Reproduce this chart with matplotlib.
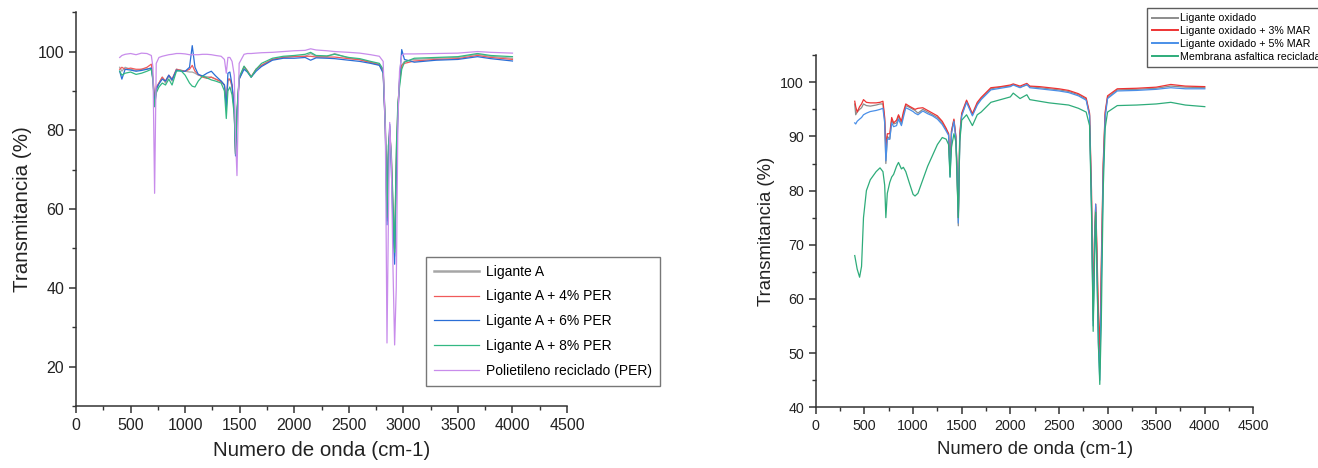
import matplotlib.pyplot as plt
from matplotlib.ticker import MultipleLocator

plt.rcParams['font.family'] = ['Liberation Sans', 'DejaVu Sans']

# ---- left panel: Ligante A + PER ----
wn_a = [400, 420, 450, 500, 550, 600, 650, 690, 705, 720, 735, 760, 790, 820, 850, 880,
        920, 960, 1000, 1040, 1065, 1090, 1120, 1160, 1200, 1240, 1280, 1330, 1360, 1377,
        1392, 1410, 1430, 1450, 1462, 1475, 1495, 1540, 1570, 1605, 1650, 1700, 1800, 1900,
        2000, 2100, 2150, 2200, 2300, 2370, 2500, 2600, 2700, 2780, 2815, 2835, 2850, 2862,
        2875, 2890, 2905, 2920, 2935, 2950, 2965, 2985, 3010, 3100, 3300, 3500, 3680, 3800,
        4000]
lig_a = [96, 95, 96, 95.5, 95.2, 95.5, 95.6, 95.8, 93, 86, 90, 92, 93.5, 92, 93.8, 92.5,
         95.5, 95.3, 95, 94.8, 94.8, 94.5, 94, 93.8, 93.6, 93.5, 93, 92.5, 91.5, 86,
         92.5, 93, 91, 85, 74, 84, 93, 96, 95, 93.5, 95.5, 96.5, 98, 98.6,
         98.8, 98.8, 99.5, 98.8, 98.7, 99.5, 98.3, 98, 97.3, 96.8, 95, 80, 57, 73,
         81, 72, 58, 48, 70, 85, 92, 96.5, 97.5, 98, 98.3, 98.5, 99.3, 98.8,
         98.3]
lig_a4 = [95.5, 96, 95.5, 95.8, 95.5, 95.5, 96, 96.8, 93.5, 88, 91, 92, 93.5, 92.5, 94, 93,
          95.5, 95.2, 95, 95.5, 96.5, 95, 94.2, 93.5, 93.2, 93.5, 93, 92.3, 91.5, 86.5,
          93, 93, 91.5, 85, 74, 84, 93, 96.2, 95.2, 93.6, 95.5, 96.5, 98, 98.5,
          98.7, 98.8, 98.8, 98.6, 98.6, 98.6, 98.2, 97.9, 97.2, 96.6, 95, 81, 58, 74,
          80, 73, 60, 50, 72, 86, 92.5, 96.5, 97, 97.6, 98, 98.2, 99, 98.5,
          98]
lig_a6 = [95, 93, 95.5, 95.3, 95, 95.2, 95.5, 95.8, 93, 86.5, 90.5, 91.8, 93, 92.5, 94, 92.8,
          95.3, 95, 95, 96, 101.5, 96, 94.2, 93.8, 94.5, 95, 93.8, 92.5, 91.5, 85.5,
          94.5, 94.8, 91.5, 85, 73.5, 84, 93, 95.5, 94.8, 93.5, 95, 96.2, 97.8, 98.3,
          98.3, 98.5, 97.8, 98.4, 98.3, 98.2, 97.8, 97.5, 97, 96.5, 94.5, 80, 56, 72,
          81.5, 70, 56, 46, 68, 84, 93, 100.5, 98, 97.3, 97.8, 98, 98.7, 98.2,
          97.6]
lig_a8 = [95, 94, 94.5, 94.8, 94.2, 94.5, 95, 95.5, 92.5, 86, 89.5, 91, 92, 91.5, 93, 91.5,
          95, 95.2, 94, 92, 91.2, 91, 92.5, 93.8, 93.3, 92.8, 92.5, 92, 90, 83,
          90, 91, 89, 84, 74, 85, 93.5, 96.3, 95, 93.5, 95.5, 97, 98.3, 98.8,
          99, 99.3, 99.8, 99, 98.9, 99.3, 98.5, 98.2, 97.5, 97, 95.5, 82, 58, 76,
          79, 74, 62, 49, 75, 87, 91, 95.5, 97.3, 98.3, 98.5, 98.7, 99.5, 99,
          98.7]
per = [98.5, 99, 99.3, 99.5, 99.2, 99.6, 99.5, 99, 96, 64, 97, 98.5, 98.8, 99, 99.2, 99.3,
       99.5, 99.5, 99.4, 99.2, 99.2, 99.2, 99.2, 99.3, 99.3, 99.2, 99, 98.8, 98, 94.5,
       98.5, 98.5, 97.5, 94, 78, 68.5, 97, 99.3, 99.5, 99.5, 99.6, 99.7, 99.8, 100,
       100.2, 100.3, 100.7, 100.4, 100.2, 100, 99.8, 99.6, 99.2, 98.8, 97.5, 80, 26, 55,
       82, 72, 45, 25.5, 40, 82, 95, 99, 99.4, 99.4, 99.5, 99.6, 100, 99.8,
       99.6]
labels_a = ['Ligante A', 'Ligante A + 4% PER', 'Ligante A + 6% PER', 'Ligante A + 8% PER',
            'Polietileno reciclado (PER)']

# ---- right panel: Ligante oxidado + MAR ----
wn_b = [400, 410, 425, 450, 470, 490, 520, 560, 620, 660, 690, 708, 720, 735, 760, 780,
        800, 830, 850, 880, 900, 925, 960, 1000, 1020, 1050, 1100, 1150, 1200, 1250, 1300,
        1340, 1365, 1380, 1395, 1420, 1440, 1452, 1465, 1480, 1500, 1550, 1610, 1660, 1700,
        1800, 1900, 2000, 2030, 2100, 2170, 2200, 2300, 2400, 2500, 2600, 2700, 2780, 2815,
        2835, 2852, 2865, 2878, 2890, 2905, 2920, 2935, 2955, 2975, 3000, 3100, 3300, 3500,
        3650, 3800, 4000]
oxi = [96, 94, 94.5, 95, 95.3, 96, 95.7, 95.6, 95.8, 96, 96, 93, 85, 90, 89.5, 93,
       92.3, 92.5, 93.8, 92.3, 94, 95.7, 95.4, 95, 94.8, 94.3, 95, 94.5, 94, 93.5, 92.5,
       91.3, 90.5, 83, 91, 93, 90, 84, 73.5, 90, 94, 96.5, 94, 96, 97,
       98.8, 99.1, 99.3, 99.6, 99.1, 99.5, 99.2, 99, 98.8, 98.6, 98.3, 97.7, 96.9, 94,
       78, 56, 70, 77, 68, 55, 47, 64, 84, 94, 97.2, 98.6, 98.7, 98.9,
       99.3, 99.1, 99]
oxi_3 = [96.5, 95.5, 94.5, 95.5, 96, 96.8, 96.3, 96.2, 96.2, 96.3, 96.5, 93.5, 88, 90.5, 90.5, 93.5,
         92.5, 93, 94, 92.8, 94.5, 96, 95.6, 95.2, 95, 95.2, 95.3, 94.8, 94.3, 93.8, 92.8,
         91.5, 90.5, 84, 91, 93.2, 90, 84, 75, 90.5, 94.3, 96.7, 94.2, 96.3, 97.2,
         99, 99.2, 99.5, 99.7, 99.3, 99.8, 99.3, 99.2, 99, 98.8, 98.5, 97.9, 97.1, 94.3,
         80, 58, 71, 77.5, 70, 58, 50, 66, 85, 94.5, 97.5, 98.8, 98.9, 99.1,
         99.6, 99.3, 99.2]
oxi_5 = [92.5, 92.3, 92.8, 93.2, 93.5, 94, 94.3, 94.6, 94.8, 95, 95.2, 92.5, 85.5, 89.5, 89.5, 92.5,
         91.8, 92, 93.2, 92, 93.5, 95.3, 95, 94.6, 94.3, 94, 94.7, 94.2, 93.8, 93.2, 92.2,
         91, 90.2, 82.5, 90.5, 92.8, 89.5, 84, 74, 89.5, 93.8, 96.3, 93.8, 95.8, 96.8,
         98.6, 98.9, 99.2, 99.5, 99, 99.6, 99, 98.8, 98.6, 98.4, 98.1, 97.5, 96.7, 93.8,
         77, 55, 68, 77.5, 66, 52, 45, 62, 83, 93.5, 97, 98.4, 98.5, 98.7,
         99, 98.8, 98.8]
mar = [68, 67, 65.5, 64, 66, 75, 80, 82, 83.5, 84.2, 83.5, 81, 75, 79.5, 81.5, 82.5,
       83, 84.5, 85.2, 84, 84.3, 83.5, 81.5, 79.3, 79, 79.5, 82, 84.5, 86.5, 88.5, 89.8,
       89.5, 88.5, 82.5, 88, 90.5, 89, 82, 75, 89, 93, 94, 92, 94, 94.5,
       96.3, 96.8, 97.3, 98, 97, 97.7, 96.8, 96.5, 96.2, 96, 95.8, 95.2, 94.5, 92,
       76, 54, 66, 76, 66, 52, 44.2, 55, 80, 91.5, 94.5, 95.7, 95.8, 96,
       96.3, 95.8, 95.5]
labels_b = ['Ligante oxidado', 'Ligante oxidado + 3% MAR', 'Ligante oxidado + 5% MAR',
            'Membrana asfaltica reciclada']

fig = plt.figure(figsize=(13.18, 4.68), dpi=100)
ax1 = fig.add_axes([0.0577, 0.1325, 0.3725, 0.8415])
ax2 = fig.add_axes([0.619, 0.130, 0.332, 0.752])

cols_a = ['#a6a6a6', '#f05a5a', '#2a6ed6', '#33b883', '#c88ceb']
for y, c, lab in zip([lig_a, lig_a4, lig_a6, lig_a8, per], cols_a, labels_a):
    ax1.plot(wn_a, y, color=c, lw=0.9, label=lab)

cols_b = ['#8c8c8c', '#ee3333', '#4a8fe8', '#2eac7a']
for y, c, lab in zip([oxi, oxi_3, oxi_5, mar], cols_b, labels_b):
    ax2.plot(wn_b, y, color=c, lw=0.9, label=lab)

for ax, ymin, ymax, ymaj, ymin_step, fs_t, fs_l in [
        (ax1, 10, 110, 20, 10, 11.5, 14.8),
        (ax2, 40, 105, 10, 5, 10.3, 13.3)]:
    ax.set_xlim(0, 4500)
    ax.set_ylim(ymin, ymax)
    ax.xaxis.set_major_locator(MultipleLocator(500))
    ax.xaxis.set_minor_locator(MultipleLocator(250))
    ax.yaxis.set_major_locator(MultipleLocator(ymaj))
    ax.yaxis.set_minor_locator(MultipleLocator(ymin_step))
    ax.spines['top'].set_visible(False)
    ax.spines['right'].set_visible(False)
    for s in ['left', 'bottom']:
        ax.spines[s].set_color('#333333')
        ax.spines[s].set_linewidth(1.1)
    ax.tick_params(which='major', direction='out', length=5, width=1.1,
                   colors='#333333', labelsize=fs_t, labelcolor='#222222')
    ax.tick_params(which='minor', direction='out', length=3, width=1.0, colors='#333333')
    ax.set_xlabel('Numero de onda (cm-1)', fontsize=fs_l, color='#222222', labelpad=6)
    ax.set_ylabel('Transmitancia (%)', fontsize=fs_l, color='#222222', labelpad=4)

ax1.set_yticks([20, 40, 60, 80, 100])
ax1.set_yticks([10, 30, 50, 70, 90, 110], minor=True)

leg1 = ax1.legend(loc='upper left', bbox_to_anchor=(426 / 1318, 1 - 257 / 468),
                  bbox_transform=fig.transFigure, fontsize=10, frameon=True,
                  fancybox=False, edgecolor='#555555', handlelength=3.3,
                  labelspacing=0.78, borderpad=0.55, handletextpad=0.5,
                  borderaxespad=0)
leg1.get_frame().set_linewidth(1.0)
leg1.get_lines()[0].set_linewidth(1.8)

leg2 = ax2.legend(loc='upper left', bbox_to_anchor=(1147 / 1318, 1 - 8 / 468),
                  bbox_transform=fig.transFigure, fontsize=7.7, frameon=True,
                  fancybox=False, edgecolor='#333333', handlelength=2.4,
                  labelspacing=0.26, borderpad=0.5, handletextpad=0.2,
                  borderaxespad=0)
leg2.get_frame().set_linewidth(1.0)
for ln in leg2.get_lines():
    ln.set_linewidth(1.4)

fig.savefig('out.png', dpi=100)
plt.close(fig)
